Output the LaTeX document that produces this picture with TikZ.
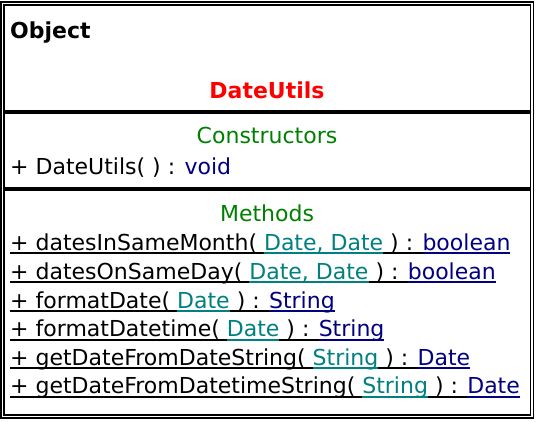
\documentclass[tikz,border=0pt]{standalone}
\usepackage{fontspec}
\setmainfont{DejaVu Sans}
\usepackage{xcolor}
\usetikzlibrary{positioning}
\definecolor{umlRed}{HTML}{FF0000}
\definecolor{umlGreen}{HTML}{008000}
\definecolor{umlNavy}{HTML}{000080}
\definecolor{umlTeal}{HTML}{008080}
% underlined piece of text, rule in the same colour
\newcommand{\ulpart}[2]{{\color{#1}\setbox0=\hbox{#2}\rlap{\vrule width\wd0 height -2.4pt depth 4.3pt}\box0}}
\newcommand{\umlop}[3]{\ulpart{black}{+ #1( }\ulpart{umlTeal}{#2}\ulpart{black}{ ) : }\ulpart{umlNavy}{#3}}

\begin{document}
\begin{tikzpicture}[x=1pt,y=-1pt,font=\fontsize{22}{26}\selectfont,
    txt/.style={inner sep=0pt,anchor=base west},
    head/.style={inner sep=0pt,anchor=base},
    frame/.style={line width=1.8pt,double,double distance=1.3pt},
    sepline/.style={line width=3.6pt}]
    \path[fill=white,use as bounding box] (0,0) rectangle (538,421);

    % class box
    \draw[frame] (2.3,3.2) rectangle (532,416.5);
    \coordinate (sepA) at (4,112);
    \coordinate (sepB) at (4,189);
    \draw[sepline] (sepA) -- +(526.5,0);
    \draw[sepline] (sepB) -- +(526.5,0);

    % name compartment
    \node[txt] (super) at (10,38.5) {\bfseries Object};
    \node[head,text=umlRed] (name) at (267,98) {\bfseries DateUtils};

    % constructors
    \node[head,text=umlGreen] (ctorhead) at (267,143) {Constructors};
    \node[txt] (ctor) at (10,174) {+ DateUtils( ) : \textcolor{umlNavy}{void}};

    % methods
    \node[head,text=umlGreen] (methhead) at (267,221) {Methods};
    \node[txt] (m1) at (10,250) {\umlop{datesInSameMonth}{Date, Date}{boolean}};
    \node[txt] (m2) at (10,279) {\umlop{datesOnSameDay}{Date, Date}{boolean}};
    \node[txt] (m3) at (10,308) {\umlop{formatDate}{Date}{String}};
    \node[txt] (m4) at (10,336.5) {\umlop{formatDatetime}{Date}{String}};
    \node[txt] (m5) at (10,365) {\umlop{getDateFromDateString}{String}{Date}};
    \node[txt] (m6) at (10,393.5) {\umlop{getDateFromDatetimeString}{String}{Date}};
\end{tikzpicture}
\end{document}
